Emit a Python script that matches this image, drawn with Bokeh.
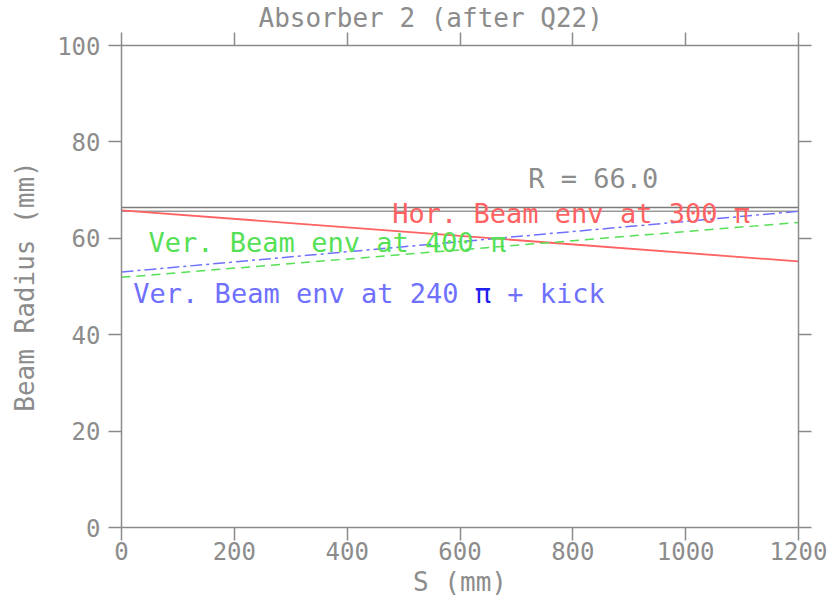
from bokeh.plotting import figure
from bokeh.models import Range1d, LinearAxis, FixedTicker, Label, Title
from bokeh.embed import file_html
from bokeh.resources import INLINE

# ---- data ----
s_mm = [0, 1200]
aperture_upper = [66.4, 66.4]
aperture_lower = [65.6, 65.6]
hor_env_300 = [65.8, 55.2]
ver_env_400 = [51.9, 63.3]
ver_env_240_kick = [53.0, 65.6]

x_ticks = [0, 200, 400, 600, 800, 1000, 1200]
y_ticks = [0, 20, 40, 60, 80, 100]

title_text = "Absorber 2 (after Q22)"
x_label = "S (mm)"
y_label = "Beam Radius (mm)"
r_text = "R = 66.0"
hor_text = "Hor. Beam env at 300 π"
ver400_text = "Ver. Beam env at 400 π"
ver240_parts = ["Ver. Beam env at 240", "π", "+ kick"]

# ---- styling ----
FONT = "DejaVu Sans Mono"
GREY = "#8a8a8a"
TXT = "#8c8c8c"
RED = "#ff6262"
GREEN = "#55e055"
BLUE = "#7070ff"
DARKBLUE = "#2020f0"

p = figure(width=832, height=603, output_backend="svg", toolbar_location=None,
           x_range=Range1d(0, 1200), y_range=Range1d(0, 100),
           min_border_left=121, min_border_right=34,
           min_border_top=45, min_border_bottom=76)
p.outline_line_color = None
p.grid.visible = False
p.background_fill_color = "white"
p.border_fill_color = "white"

p.title = Title(text=title_text, text_font=FONT, text_font_size="26px",
                text_font_style="normal", text_color=TXT, align="left",
                offset=137, standoff=0)

top_ax = LinearAxis()
right_ax = LinearAxis()
p.add_layout(top_ax, "above")
p.add_layout(right_ax, "right")


def style_axis(ax, ticks, show_labels):
    ax.ticker = FixedTicker(ticks=ticks)
    ax.axis_line_color = GREY
    ax.axis_line_width = 1.5
    ax.major_tick_line_color = GREY
    ax.major_tick_line_width = 1.5
    ax.major_tick_in = 0
    ax.major_tick_out = 13
    ax.minor_tick_line_color = None
    ax.major_label_text_font = FONT
    ax.major_label_text_color = TXT
    if show_labels:
        ax.major_label_text_font_size = "24px"
    else:
        ax.major_label_text_font_size = "0px"
        ax.major_label_overrides = {t: "" for t in ticks}
        ax.major_label_standoff = 0


style_axis(p.below[0], x_ticks, True)
style_axis(top_ax, x_ticks, False)
style_axis(p.left[0], y_ticks, True)
style_axis(right_ax, y_ticks, False)

bx = p.below[0]
bx.axis_label = x_label
bx.axis_label_text_font = FONT
bx.axis_label_text_font_size = "26px"
bx.axis_label_text_font_style = "normal"
bx.axis_label_text_color = TXT
bx.major_label_standoff = 1
bx.axis_label_standoff = 4

ly = p.left[0]
ly.axis_label = y_label
ly.axis_label_text_font = FONT
ly.axis_label_text_font_size = "26px"
ly.axis_label_text_font_style = "normal"
ly.axis_label_text_color = TXT
ly.major_label_standoff = 8
ly.axis_label_standoff = 14

# ---- lines ----
p.line(s_mm, aperture_upper, line_color="#7c7c7c", line_width=1.6)
p.line(s_mm, aperture_lower, line_color="#9a9a9a", line_width=1.6)
p.line(s_mm, hor_env_300, line_color=RED, line_width=1.8)
p.line(s_mm, ver_env_400, line_color=GREEN, line_width=1.5, line_dash="9 6")
p.line(s_mm, ver_env_240_kick, line_color=BLUE, line_width=1.5, line_dash="12 4 3 4")


# ---- texts ----
def lab(x, y, text, color, size="27px", x_offset=0, align="left"):
    p.add_layout(Label(x=x, y=y, text=text, text_font=FONT, text_font_size=size,
                       text_color=color, text_baseline="middle", text_align=align,
                       x_offset=x_offset, text_font_style="normal"))


lab(721, 72.4, r_text, TXT)
lab(480, 65.1, hor_text, RED)
lab(48, 59.2, ver400_text, GREEN)
cw = 0.602 * 27
lab(21, 48.5, ver240_parts[0], BLUE)
lab(21, 48.5, ver240_parts[1], DARKBLUE, x_offset=cw * (len(ver240_parts[0]) + 1))
lab(21, 48.5, ver240_parts[2], BLUE, x_offset=cw * (len(ver240_parts[0]) + 3))

open("out.html", "w").write(file_html(p, INLINE))
